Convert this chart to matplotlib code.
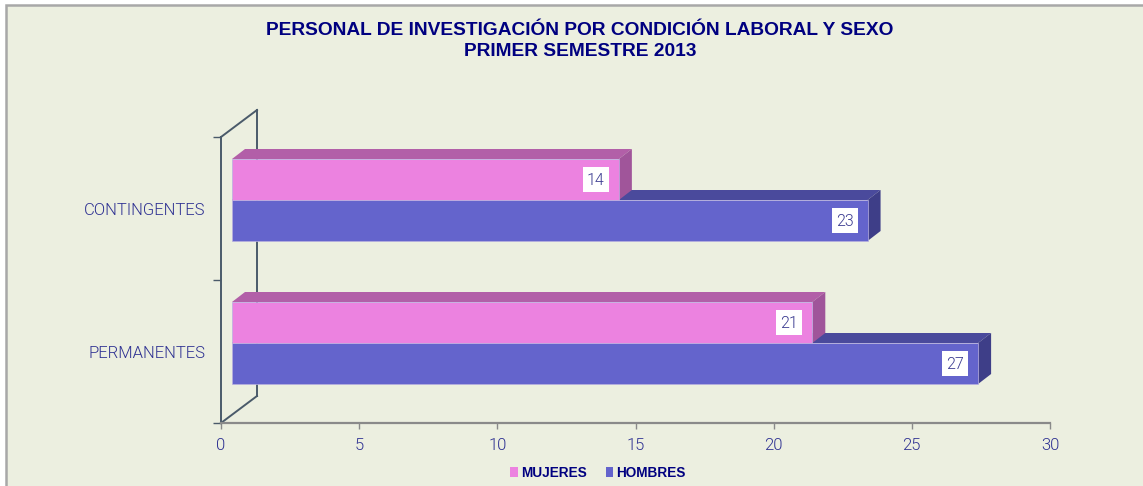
import matplotlib
matplotlib.use("Agg")
import matplotlib.pyplot as plt
from matplotlib.patches import Polygon, Rectangle, Patch
from matplotlib.lines import Line2D

# ---- data ----
categories = ["CONTINGENTES", "PERMANENTES"]
mujeres = [14, 21]
hombres = [23, 27]
series_names = ["MUJERES", "HOMBRES"]
x_ticks = [0, 5, 10, 15, 20, 25, 30]
title_lines = ["PERSONAL DE INVESTIGACIÓN POR CONDICIÓN LABORAL Y SEXO",
               "PRIMER SEMESTRE 2013"]

# ---- style ----
W, H = 1143, 486
bg = "#ECEFE0"
navy = "#000080"
txt_blue = "#2E3192"
pink = dict(front="#EC82E0", top="#B25FA8", side="#A0559A")
blue = dict(front="#6464CC", top="#4A4A9C", side="#3E3E88")
narrow = ["Roboto", "DejaVu Sans"]
light = 300

fig = plt.figure(figsize=(W / 100, H / 100), dpi=100, facecolor="white")
# chart area with grey frame (top-left visible)
fig.patches.append(Rectangle((6 / W, -0.05), 1.1, 1 - 5 / H + 0.05, transform=fig.transFigure,
                             facecolor=bg, edgecolor="#A8A8A8", lw=1.8, zorder=-10))

px_left, px_right = 221, 1050
row_bottom, row_top = 423, 100
ax = fig.add_axes([px_left / W, (H - row_bottom) / H,
                   (px_right - px_left) / W, (row_bottom - row_top) / H])
ax.set_facecolor("none")
ax.set_xlim(0, 30)
ax.set_ylim(row_bottom, row_top)
upx = 30 / (px_right - px_left)  # data units per pixel in x

# 3D wall
wall_dx = 36 * upx
wall_dy = -27
wc = "#4A5A6A"
ax.add_line(Line2D([0, wall_dx], [137, 137 + wall_dy], color=wc, lw=1.4, zorder=1, clip_on=False))
ax.add_line(Line2D([wall_dx, wall_dx], [137 + wall_dy, row_bottom + wall_dy], color=wc, lw=1.4, zorder=1, clip_on=False))
ax.add_line(Line2D([0, wall_dx], [row_bottom, row_bottom + wall_dy], color=wc, lw=1.4, zorder=1, clip_on=False))

# spines / ticks
for s in ["top", "right"]:
    ax.spines[s].set_visible(False)
ax.spines["bottom"].set_color("#8A8A8A")
ax.spines["bottom"].set_linewidth(1.6)
ax.spines["left"].set_color(wc)
ax.spines["left"].set_linewidth(1.4)
ax.spines["left"].set_bounds(row_bottom, 137)
ax.set_xticks(x_ticks)
ax.set_xticklabels([str(t) for t in x_ticks], fontfamily=narrow, fontweight=light,
                   fontsize=12, color=txt_blue)
ax.tick_params(axis="x", direction="out", length=4, color="#8A8A8A", width=1, pad=7)
ax.set_yticks([137, 280, 423])
ax.set_yticklabels(["", "", ""])
ax.tick_params(axis="y", which="major", direction="out", length=6, color=wc, width=1)

# bars
x0 = 11 * upx
ddx = 13 * upx
ddy = -10
bh = 41
boundaries = [200, 343]

def draw_bar(v, ytop, c):
    front = Rectangle((x0, ytop), v, bh, facecolor=c["front"], edgecolor="#B8B0E0", lw=0.5, zorder=3)
    top = Polygon([(x0, ytop), (x0 + v, ytop), (x0 + v + ddx, ytop + ddy), (x0 + ddx, ytop + ddy)],
                  closed=True, facecolor=c["top"], edgecolor="none", zorder=3)
    side = Polygon([(x0 + v, ytop), (x0 + v + ddx, ytop + ddy), (x0 + v + ddx, ytop + bh + ddy), (x0 + v, ytop + bh)],
                   closed=True, facecolor=c["side"], edgecolor="none", zorder=3)
    for p in (top, side, front):
        ax.add_patch(p)
    # value label box
    bw, bhh = 26 * upx, 25
    bx = x0 + v - 10 * upx - bw
    by = ytop + (bh - bhh) / 2
    ax.add_patch(Rectangle((bx, by), bw, bhh, facecolor="white", edgecolor="none", zorder=4))
    ax.text(bx + bw / 2, by + bhh / 2 + 0.5, str(v), ha="center", va="center",
            fontfamily=narrow, fontweight=light, fontsize=11.5, color="#3A3A90", zorder=5)

for i, cat in enumerate(categories):
    b = boundaries[i]
    draw_bar(hombres[i], b, blue)
    draw_bar(mujeres[i], b - bh, pink)

# category labels as minor ticks
ax.set_yticks([209, 352], minor=True)
ax.set_yticklabels(categories, minor=True, fontfamily=narrow, fontweight=light,
                   fontsize=12, color=txt_blue)
ax.tick_params(axis="y", which="minor", length=0, pad=11.5)

# title
for line, row in zip(title_lines, [30, 52]):
    fig.text(580 / W, 1 - row / H, line, ha="center", va="center",
             fontfamily="Liberation Sans", fontweight="bold", fontsize=13.8, color=navy)

# legend
handles = [Patch(facecolor=pink["front"], edgecolor="none"),
           Patch(facecolor=blue["front"], edgecolor="none")]
leg = fig.legend(handles, series_names, loc="center", bbox_to_anchor=(598 / W, 1 - 473 / H),
                 ncol=2, frameon=False, handlelength=0.55, handleheight=0.75, handletextpad=0.25,
                 columnspacing=1.4, prop=dict(family="Liberation Sans", weight="bold", size=9.8))
for t in leg.get_texts():
    t.set_color(navy)

fig.savefig("out.png", dpi=100, facecolor="white")
